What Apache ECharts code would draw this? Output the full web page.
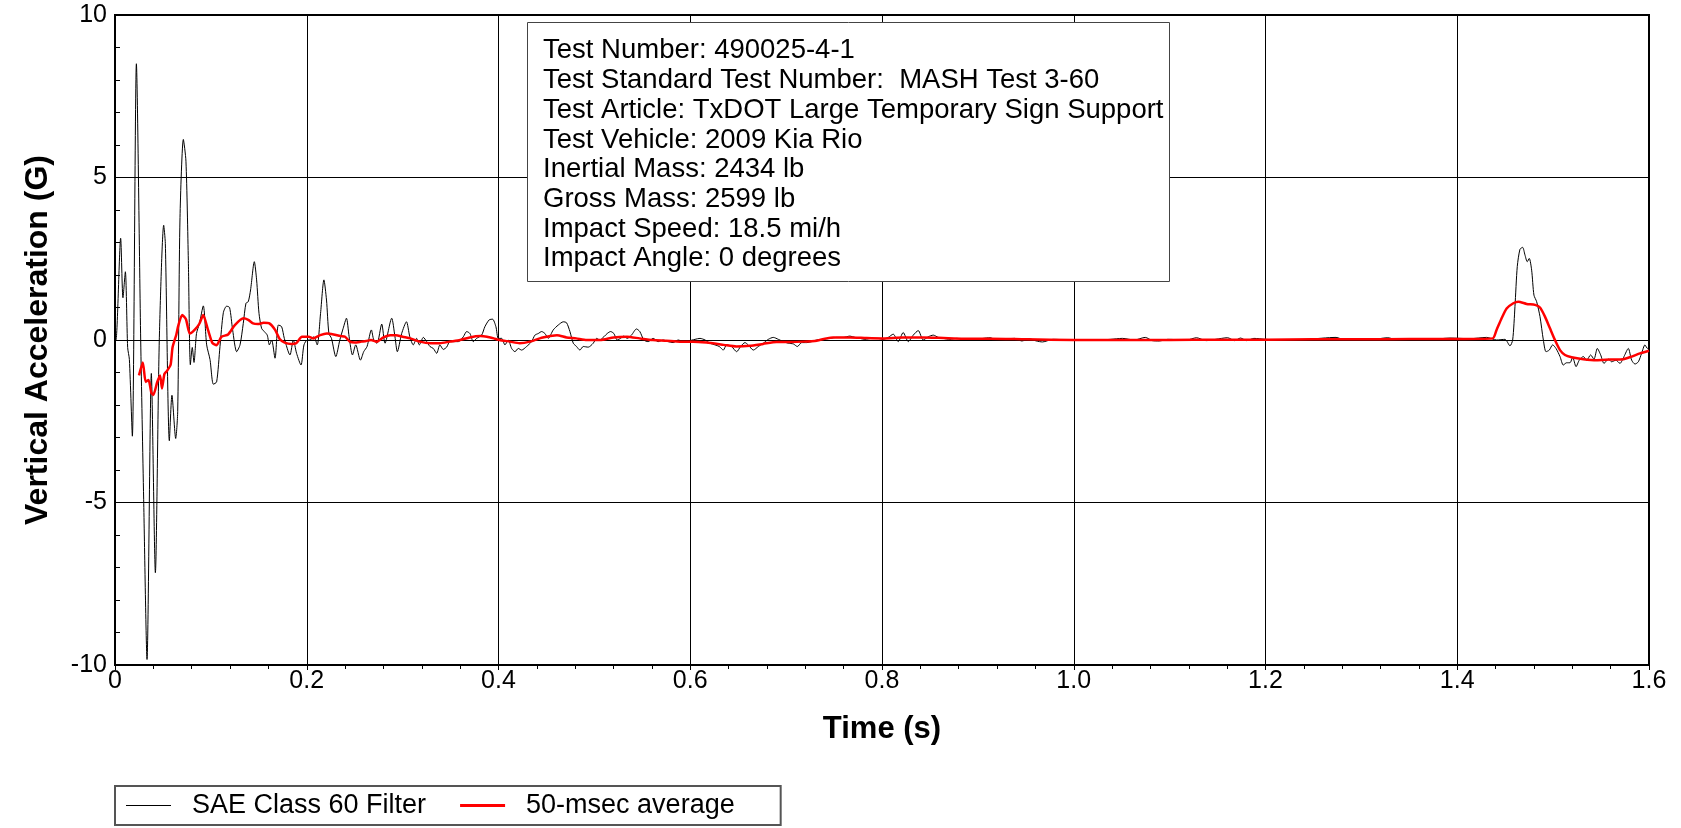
<!DOCTYPE html>
<html>
<head>
<meta charset="utf-8">
<script src="https://cdn.jsdelivr.net/npm/echarts@6/dist/echarts.min.js"></script>
<style>
html,body{margin:0;padding:0;background:#fff;}
#chart{width:1681px;height:828px;}
</style>
</head>
<body>
<div id="chart"></div>
<script>
// Time (s) tick labels and acceleration (G) tick labels
const xTickValues = [0, 0.2, 0.4, 0.6, 0.8, 1.0, 1.2, 1.4, 1.6];
const xTickLabels = ['0', '0.2', '0.4', '0.6', '0.8', '1.0', '1.2', '1.4', '1.6'];
const yTickValues = [-10, -5, 0, 5, 10];
const yTickLabels = ['-10', '-5', '0', '5', '10'];

const seriesNames = ['SAE Class 60 Filter', '50-msec average'];

const infoLines = [
  'Test Number: 490025-4-1',
  'Test Standard Test Number:  MASH Test 3-60',
  'Test Article: TxDOT Large Temporary Sign Support',
  'Test Vehicle: 2009 Kia Rio',
  'Inertial Mass: 2434 lb',
  'Gross Mass: 2599 lb',
  'Impact Speed: 18.5 mi/h',
  'Impact Angle: 0 degrees'
];

// SAE Class 60 filtered vertical acceleration [time s, G]
const filterData = [
  [0.000,0.0],[0.001,0.0],[0.0059,3.13],[0.0083,1.3],[0.0108,2.1],[0.0132,-0.23],[0.015,-0.6],
  [0.0181,-2.96],[0.0223,8.5],[0.0268,0.0],[0.0299,-4.9],[0.0334,-9.83],[0.0379,-1.03],
  [0.0421,-7.16],[0.0462,0.0],[0.0508,3.53],[0.0525,2.97],[0.0567,-3.1],[0.0594,-1.7],
  [0.0633,-3.03],[0.0654,-2.2],[0.0678,3.77],[0.0713,6.17],[0.0740,5.5],[0.0765,2.44],
  [0.0786,-0.76],[0.0806,-0.23],[0.0824,-0.69],[0.0850,0.2],[0.0880,0.5],[0.0921,1.05],
  [0.0956,-0.15],[0.0991,-0.6],[0.1026,-1.36],[0.106,-1.29],[0.1095,-0.2],[0.113,0.84],
  [0.1164,1.04],[0.1195,1.0],[0.1227,0.31],[0.1269,-0.36],[0.1304,-0.15],[0.1338,0.51],
  [0.1366,1.13],[0.139,1.18],[0.1414,1.54],[0.1453,2.41],[0.1477,1.85],[0.1502,0.82],
  [0.1529,0.36],[0.1557,0.26],[0.1588,0.15],[0.161,-0.15],[0.1634,0.0],[0.1669,-0.56],
  [0.1704,0.46],[0.1738,0.41],[0.1766,0.05],[0.1825,-0.46],[0.186,0.0],[0.1894,-0.41],
  [0.194,-0.77],[0.1971,-0.15],[0.2006,0.0],[0.2033,0.0],[0.2074,0.1],[0.2109,-0.15],
  [0.2144,0.82],[0.2179,1.85],[0.2206,1.23],[0.2231,0.2],[0.2258,0.05],[0.2303,-0.51],
  [0.2345,0.0],[0.238,0.36],[0.2414,0.67],[0.2442,0.1],[0.2477,-0.46],[0.2511,-0.15],
  [0.256,-0.62],[0.2594,-0.36],[0.2629,-0.2],[0.2674,0.31],[0.2699,0.0],[0.2733,-0.1],
  [0.2782,0.49],[0.2816,-0.1],[0.2886,0.67],[0.292,0.1],[0.2945,-0.36],[0.299,0.2],
  [0.3040,0.56],[0.3075,0.1],[0.3111,-0.15],[0.3146,0.05],[0.3174,-0.15],[0.3216,0.08],
  [0.3251,-0.05],[0.3285,-0.2],[0.332,-0.26],[0.3355,-0.41],[0.3389,-0.15],[0.3424,-0.29],
  [0.3459,-0.22],[0.3494,-0.05],[0.3581,-0.05],[0.3633,0.1],[0.3668,0.26],[0.3702,0.2],
  [0.3737,-0.05],[0.3772,0.05],[0.3824,0.15],[0.3858,0.41],[0.3903,0.62],[0.3938,0.64],
  [0.3973,0.41],[0.3998,0.05],[0.4033,0.05],[0.4067,-0.15],[0.4102,0.0],[0.4137,-0.26],
  [0.4172,-0.36],[0.4206,-0.26],[0.4241,-0.31],[0.4293,-0.2],[0.4345,-0.05],[0.438,0.15],
  [0.4415,0.2],[0.445,0.26],[0.4484,0.2],[0.4519,0.05],[0.4571,0.31],[0.4623,0.46],
  [0.4676,0.56],[0.471,0.53],[0.4745,0.26],[0.478,-0.1],[0.4814,-0.2],[0.4849,-0.31],
  [0.4884,-0.2],[0.4936,-0.22],[0.4988,-0.1],[0.5023,0.05],[0.5057,0.0],[0.5099,0.1],
  [0.5134,0.2],[0.5169,0.26],[0.5203,0.2],[0.5238,0.0],[0.5273,0.05],[0.5307,0.12],
  [0.5342,0.05],[0.5387,0.15],[0.5439,0.34],[0.5474,0.26],[0.5516,0.0],[0.5561,-0.05],
  [0.5613,0.05],[0.5665,-0.05],[0.5718,0.0],[0.577,-0.05],[0.5822,-0.08],[0.5874,0.0],
  [0.5926,-0.05],[0.5979,-0.03],[0.6050,0.02],[0.6102,0.05],[0.6155,0.0],[0.6206,-0.1],
  [0.6258,-0.15],[0.6303,-0.2],[0.6345,-0.31],[0.6379,-0.15],[0.6431,-0.2],[0.6484,-0.36],
  [0.6525,-0.2],[0.6571,-0.08],[0.6604,-0.15],[0.6658,-0.31],[0.671,-0.2],[0.6762,-0.1],
  [0.6814,0.02],[0.6866,0.08],[0.6919,0.02],[0.6971,-0.05],[0.7023,-0.1],[0.7075,-0.12],
  [0.7117,-0.2],[0.7162,-0.08],[0.7214,-0.08],[0.7266,-0.05],[0.7318,0.0],[0.7388,0.02],
  [0.7457,0.05],[0.7527,0.08],[0.7596,0.08],[0.7665,0.12],[0.7718,0.08],[0.777,0.05],
  [0.7822,0.02],[0.7891,0.05],[0.796,0.05],[0.8013,0.02],[0.8065,0.08],[0.8117,0.18],
  [0.8169,-0.05],[0.8221,0.23],[0.8274,-0.05],[0.8326,0.15],[0.8378,0.29],[0.843,0.0],
  [0.8483,0.1],[0.8535,0.15],[0.8587,0.08],[0.8639,0.05],[0.8708,0.02],[0.8778,0.05],
  [0.8847,0.03],[0.8917,0.0],[0.8986,0.02],[0.9056,0.05],[0.9125,0.07],[0.9185,0.02],
  [0.9385,0.05],[0.9459,-0.03],[0.9534,0.04],[0.9609,-0.03],[0.9674,-0.06],[0.9783,0.02],
  [0.9983,0.0],[1.0182,-0.01],[1.0382,0.02],[1.0507,0.05],[1.0632,0.0],[1.0746,0.08],
  [1.0821,-0.02],[1.0891,-0.03],[1.0981,0.02],[1.118,0.0],[1.128,0.07],[1.138,-0.02],
  [1.148,0.02],[1.1604,0.07],[1.1679,-0.02],[1.1739,0.06],[1.1804,-0.02],[1.1879,0.05],
  [1.2003,0.02],[1.2178,0.0],[1.2427,0.02],[1.2736,0.08],[1.2826,0.0],[1.3076,0.0],
  [1.3275,0.07],[1.3375,0.0],[1.3674,0.0],[1.3924,0.06],[1.4133,0.04],[1.4307,0.08],
  [1.4411,0.0],[1.4498,0.02],[1.455,-0.18],[1.4578,0.0],[1.4602,1.03],[1.4626,2.26],
  [1.4654,2.79],[1.4682,2.85],[1.4706,2.62],[1.473,2.41],[1.4751,2.51],[1.4776,2.15],
  [1.48,1.38],[1.4828,1.18],[1.4863,0.72],[1.4898,0.0],[1.4926,-0.36],[1.496,-0.31],
  [1.4995,-0.15],[1.503,-0.26],[1.5072,-0.51],[1.5106,-0.77],[1.5141,-0.70],[1.5176,-0.70],
  [1.5204,-0.53],[1.5239,-0.82],[1.5273,-0.62],[1.5315,-0.51],[1.535,-0.62],[1.5391,-0.46],
  [1.5426,-0.59],[1.5461,-0.26],[1.5496,-0.46],[1.5531,-0.72],[1.5576,-0.59],[1.561,-0.67],
  [1.5656,-0.62],[1.5697,-0.72],[1.5739,-0.51],[1.5784,-0.26],[1.5819,-0.62],[1.5854,-0.74],
  [1.5889,-0.67],[1.5923,-0.41],[1.5958,-0.15],[1.5983,-0.26],[1.6,-0.21]
];

// 50-msec moving average [time s, G]
const averageData = [
  [0.025,-1.09],[0.029,-0.69],[0.032,-1.29],[0.035,-1.23],[0.038,-1.63],[0.040,-1.69],
  [0.044,-1.30],[0.047,-1.09],[0.049,-1.49],[0.0515,-1.05],[0.054,-0.96],[0.058,-0.76],
  [0.060,-0.23],[0.064,0.17],[0.066,0.44],[0.070,0.77],[0.074,0.64],[0.078,0.20],
  [0.083,0.31],[0.088,0.50],[0.092,0.77],[0.097,0.31],[0.1015,-0.09],[0.106,-0.16],
  [0.111,0.10],[0.118,0.17],[0.125,0.46],[0.134,0.67],[0.139,0.62],[0.144,0.51],
  [0.149,0.49],[0.155,0.53],[0.161,0.51],[0.167,0.31],[0.172,0.02],[0.177,-0.08],
  [0.184,-0.12],[0.189,-0.10],[0.195,0.10],[0.202,0.10],[0.207,0.05],[0.214,0.15],
  [0.221,0.20],[0.228,0.17],[0.235,0.12],[0.240,0.10],[0.245,-0.05],[0.250,-0.08],
  [0.257,-0.05],[0.262,-0.03],[0.267,0.0],[0.273,-0.05],[0.280,0.08],[0.287,0.15],
  [0.293,0.15],[0.300,0.10],[0.308,0.05],[0.318,-0.05],[0.329,-0.10],[0.339,-0.10],
  [0.349,-0.05],[0.360,0.0],[0.370,0.08],[0.381,0.12],[0.388,0.10],[0.395,0.05],
  [0.401,0.0],[0.412,-0.05],[0.422,-0.10],[0.433,-0.05],[0.443,0.05],[0.454,0.12],
  [0.461,0.15],[0.471,0.08],[0.481,0.05],[0.492,0.0],[0.506,0.0],[0.520,0.08],
  [0.534,0.10],[0.547,0.05],[0.561,0.0],[0.575,-0.02],[0.589,-0.05],[0.603,-0.05],
  [0.617,-0.08],[0.635,-0.15],[0.648,-0.20],[0.662,-0.18],[0.676,-0.12],[0.690,-0.06],
  [0.704,-0.06],[0.718,-0.05],[0.732,-0.02],[0.742,0.05],[0.749,0.08],[0.767,0.08],
  [0.784,0.06],[0.801,0.05],[0.822,0.08],[0.843,0.08],[0.864,0.06],[0.885,0.04],
  [0.913,0.04],[0.95,0.02],[1.0,0.0],[1.05,0.0],[1.1,0.0],[1.15,0.01],[1.2,0.01],
  [1.25,0.02],[1.3,0.02],[1.35,0.03],[1.4,0.03],[1.437,0.05],[1.441,0.31],[1.4463,0.67],
  [1.4515,0.97],[1.4585,1.13],[1.4637,1.18],[1.4724,1.11],[1.4811,1.08],[1.4863,1.00],
  [1.4915,0.72],[1.4967,0.36],[1.5019,0.0],[1.5072,-0.31],[1.5124,-0.46],[1.5193,-0.53],
  [1.5315,-0.59],[1.5454,-0.62],[1.5593,-0.60],[1.5732,-0.59],[1.5819,-0.51],[1.5906,-0.41],
  [1.6,-0.33]
];

const FONT = '"Liberation Sans", Arial, sans-serif';

function tickLabel(values, labels, v) {
  for (let i = 0; i < values.length; i++) {
    if (Math.abs(values[i] - v) < 1e-9) return labels[i];
  }
  return '';
}

const chart = echarts.init(document.getElementById('chart'), null, {renderer: 'canvas'});

chart.setOption({
  animation: false,
  backgroundColor: '#fff',
  textStyle: {fontFamily: FONT},
  grid: {
    left: 115, right: 32, top: 15, bottom: 163,
    show: true, borderColor: '#000', borderWidth: 2, backgroundColor: 'transparent'
  },
  legend: {
    data: [
      {name: seriesNames[0], icon: 'path://M0 0H45V1H0Z'},
      {name: seriesNames[1], icon: 'path://M0 0H45V3H0Z'}
    ],
    left: 115, top: 786,
    orient: 'horizontal',
    borderColor: '#555', borderWidth: 2,
    padding: [6, 46, 6, 11],
    itemWidth: 45, itemHeight: 14, itemGap: 34,
    textStyle: {fontFamily: FONT, fontSize: 27, color: '#000', padding: [0, 0, 0, 16]}
  },
  xAxis: {
    type: 'value', min: 0, max: 1.6, interval: 0.2,
    name: 'Time (s)', nameLocation: 'middle', nameGap: 49,
    nameTextStyle: {fontFamily: FONT, fontSize: 31, fontWeight: 'bold', color: '#000'},
    axisLine: {show: true, onZero: false, lineStyle: {color: '#000', width: 2}},
    axisTick: {show: true, inside: false, length: 5, lineStyle: {color: '#000'}},
    minorTick: {show: true, splitNumber: 5, length: 4, lineStyle: {color: '#000'}},
    splitLine: {show: true, lineStyle: {color: '#000', width: 1}},
    axisLabel: {
      fontFamily: FONT, fontSize: 25, color: '#000', margin: 4,
      formatter: v => tickLabel(xTickValues, xTickLabels, v)
    }
  },
  yAxis: {
    type: 'value', min: -10, max: 10, interval: 5,
    name: 'Vertical Acceleration (G)', nameLocation: 'middle', nameGap: 61, nameRotate: 90,
    nameTextStyle: {fontFamily: FONT, fontSize: 32, fontWeight: 'bold', color: '#000'},
    axisLine: {show: true, onZero: false, lineStyle: {color: '#000', width: 2}},
    axisTick: {show: true, inside: true, length: 5, lineStyle: {color: '#000'}},
    minorTick: {show: true, splitNumber: 5, length: 5, lineStyle: {color: '#000'}},
    splitLine: {show: true, lineStyle: {color: '#000', width: 1}},
    axisLabel: {
      fontFamily: FONT, fontSize: 25, color: '#000', margin: 8,
      formatter: v => tickLabel(yTickValues, yTickLabels, v)
    }
  },
  series: [
    {
      name: seriesNames[0], type: 'line', data: filterData,
      showSymbol: false, symbol: 'none', smooth: 0.25,
      lineStyle: {color: '#000', width: 1}, itemStyle: {color: '#000'}, z: 3
    },
    {
      name: seriesNames[1], type: 'line', data: averageData,
      showSymbol: false, symbol: 'none', smooth: 0.2,
      lineStyle: {color: '#ff0000', width: 2.5}, itemStyle: {color: '#ff0000'}, z: 4
    }
  ],
  graphic: [
    {
      type: 'rect', left: 527, top: 22, z: 100,
      shape: {width: 642, height: 259},
      style: {fill: '#fff', stroke: '#444', lineWidth: 1}
    },
    {
      type: 'text', left: 543, top: 36, z: 101,
      style: {text: infoLines.join('\n'), font: '27.5px ' + FONT, lineHeight: 29.7, fill: '#000'}
    }
  ]
});
</script>
</body>
</html>
